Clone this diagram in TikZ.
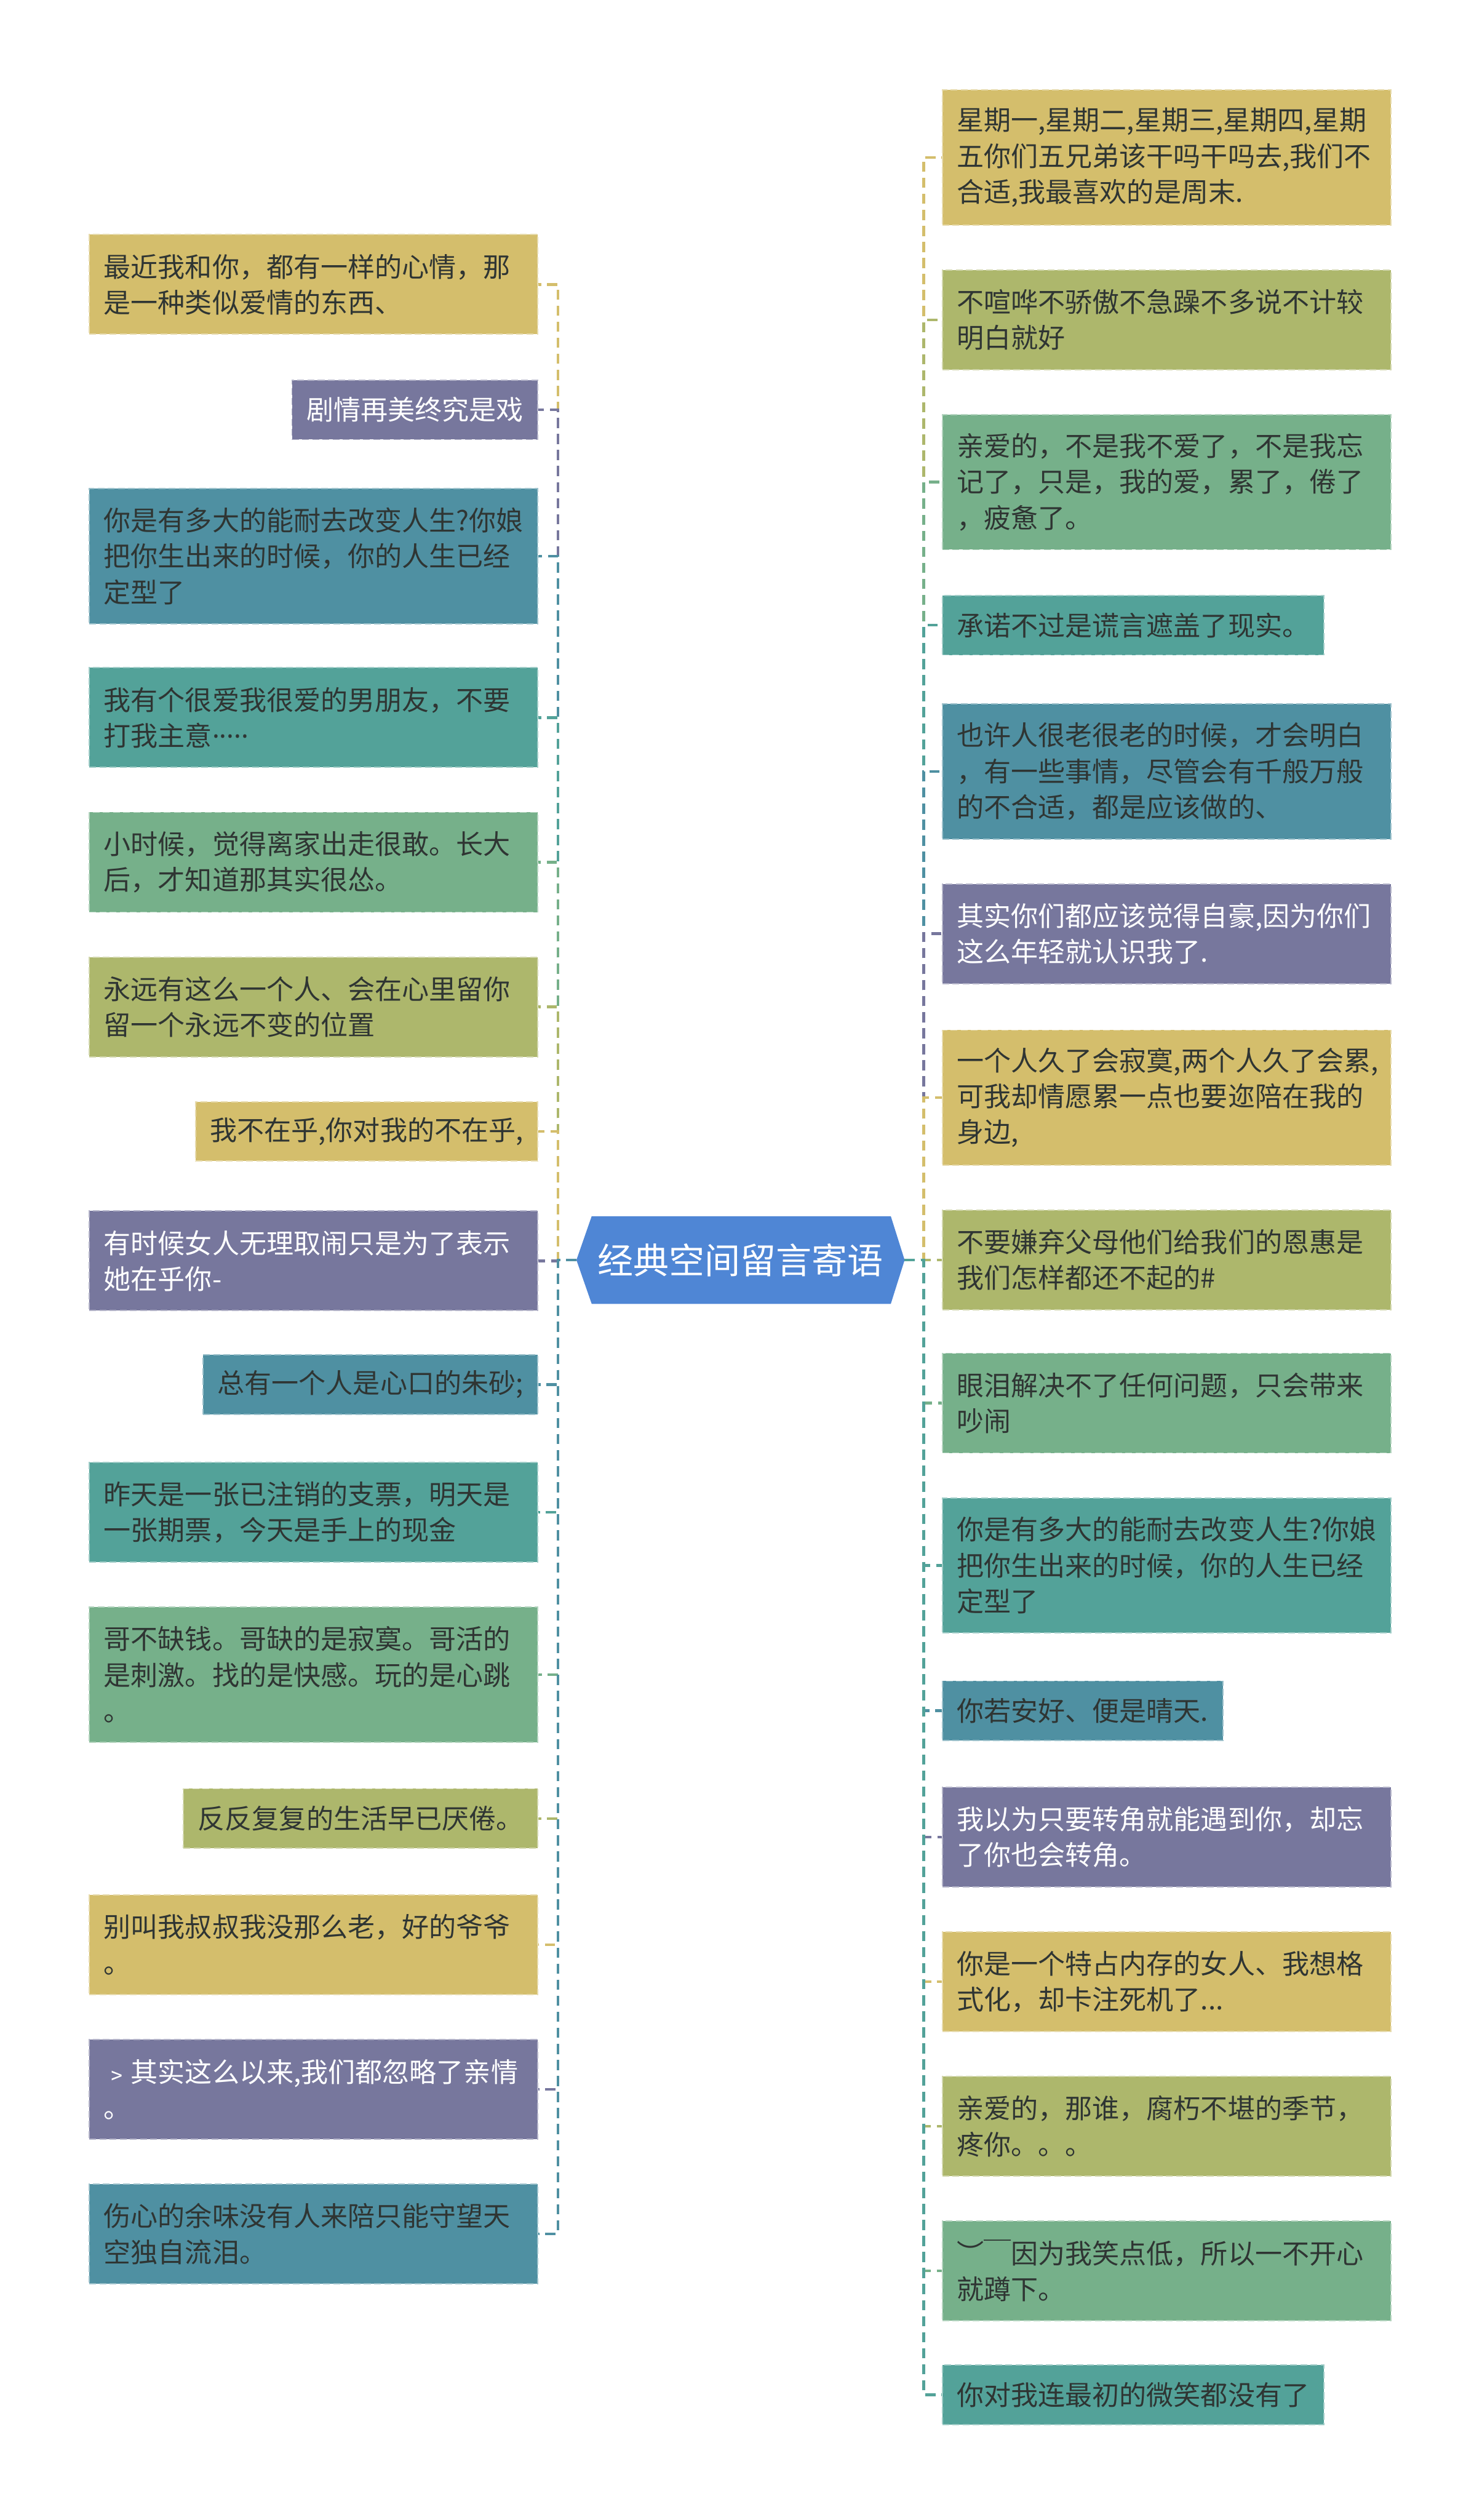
\documentclass[tikz,border=0pt]{standalone}
\usepackage{fontspec}
\setmainfont{Noto Sans CJK SC}
\newfontfamily\dotfont{Noto Sans}
\usetikzlibrary{calc}
\definecolor{cyellow}{HTML}{D4BE6C}
\definecolor{colive}{HTML}{ADB76C}
\definecolor{cgreen}{HTML}{76B08A}
\definecolor{cteal}{HTML}{53A299}
\definecolor{cblue}{HTML}{4F90A2}
\definecolor{cpurple}{HTML}{77779D}
\definecolor{croot}{HTML}{4F86D5}
\definecolor{ctext}{HTML}{2F3533}

\begin{document}
\begin{tikzpicture}[x=0.025cm, y=-0.025cm,
    leaf/.style={fill=#1, draw=#1!55!white, dash pattern=on 3pt off 1.5pt, line width=0.5pt,
        inner xsep=0.225cm, inner ysep=0pt, text=ctext, align=left,
        font=\fontsize{12pt}{15.86pt}\selectfont},
    wide/.style={text width=6.525cm},
    one/.style={minimum height=0.925cm},
    two/.style={minimum height=1.55cm},
    three/.style={minimum height=2.1cm},
    link/.style={draw=#1, line width=1.25pt, dash pattern=on 4.5pt off 2.6pt}]
    \useasboundingbox (0,0) rectangle (922,1568);

    % Central topic
    \node[minimum width=5.09cm, minimum height=1.35cm, inner sep=0pt] (root) at (460.8,784) {};
    \fill[croot] (root.west) -- ($(root.north west)+(9.5,0)$) -- ($(root.north east)+(-8.6,0)$)
        -- (root.east) -- ($(root.south east)+(-8.6,0)$) -- ($(root.south west)+(9.5,0)$) -- cycle;
    \node[text=white, font=\fontsize{15.8pt}{18pt}\selectfont] (title) at (root) {经典空间留言寄语};

    % Left branches
    \node[leaf=cyellow, wide, two, anchor=east] (l1) at (335,177) {最近我和你，都有一样的心情，那\\是一种类似爱情的东西、};
    \node[leaf=cpurple, one, anchor=east, text=white] (l2) at (335,255) {剧情再美终究是戏};
    \node[leaf=cblue, wide, three, anchor=east] (l3) at (335,346) {你是有多大的能耐去改变人生?你娘\\把你生出来的时候，你的人生已经\\定型了};
    \node[leaf=cteal, wide, two, anchor=east] (l4) at (335,446.5) {我有个很爱我很爱的男朋友，不要\\打我主意{\dotfont ·····}};
    \node[leaf=cgreen, wide, two, anchor=east] (l5) at (335,536.5) {小时候，觉得离家出走很敢。长大\\后，才知道那其实很怂。};
    \node[leaf=colive, wide, two, anchor=east] (l6) at (335,626.5) {永远有这么一个人、会在心里留你\\留一个永远不变的位置};
    \node[leaf=cyellow, one, anchor=east] (l7) at (335,704) {我不在乎,你对我的不在乎,};
    \node[leaf=cpurple, wide, two, anchor=east, text=white] (l8) at (335,784.5) {有时候女人无理取闹只是为了表示\\她在乎你-};
    \node[leaf=cblue, one, anchor=east] (l9) at (335,861.5) {总有一个人是心口的朱砂;};
    \node[leaf=cteal, wide, two, anchor=east] (l10) at (335,941) {昨天是一张已注销的支票，明天是\\一张期票，今天是手上的现金};
    \node[leaf=cgreen, wide, three, anchor=east] (l11) at (335,1042) {哥不缺钱。哥缺的是寂寞。哥活的\\是刺激。找的是快感。玩的是心跳\\。};
    \node[leaf=colive, one, anchor=east] (l12) at (335,1131.5) {反反复复的生活早已厌倦。};
    \node[leaf=cyellow, wide, two, anchor=east] (l13) at (335,1210) {别叫我叔叔我没那么老，好的爷爷\\。};
    \node[leaf=cpurple, wide, two, anchor=east, text=white] (l14) at (335,1300) {﹥其实这么以来,我们都忽略了亲情\\。};
    \node[leaf=cblue, wide, two, anchor=east] (l15) at (335,1390) {伤心的余味没有人来陪只能守望天\\空独自流泪。};

    % Right branches
    \node[leaf=cyellow, wide, three, anchor=west] (r1) at (586,98) {星期一,星期二,星期三,星期四,星期\\五你们五兄弟该干吗干吗去,我们不\\合适,我最喜欢的是周末.};
    \node[leaf=colive, wide, two, anchor=west] (r2) at (586,199) {不喧哗不骄傲不急躁不多说不计较\\明白就好};
    \node[leaf=cgreen, wide, three, anchor=west] (r3) at (586,300) {亲爱的，不是我不爱了，不是我忘\\记了，只是，我的爱，累了，倦了\\，疲惫了。};
    \node[leaf=cteal, one, anchor=west] (r4) at (586,389) {承诺不过是谎言遮盖了现实。};
    \node[leaf=cblue, wide, three, anchor=west] (r5) at (586,480) {也许人很老很老的时候，才会明白\\，有一些事情，尽管会有千般万般\\的不合适，都是应该做的、};
    \node[leaf=cpurple, wide, two, anchor=west, text=white] (r6) at (586,581) {其实你们都应该觉得自豪,因为你们\\这么年轻就认识我了.};
    \node[leaf=cyellow, wide, three, anchor=west] (r7) at (586,683) {一个人久了会寂寞,两个人久了会累,\\可我却情愿累一点也要迩陪在我的\\身边,};
    \node[leaf=colive, wide, two, anchor=west] (r8) at (586,784) {不要嫌弃父母他们给我们的恩惠是\\我们怎样都还不起的\#};
    \node[leaf=cgreen, wide, two, anchor=west] (r9) at (586,873) {眼泪解决不了任何问题，只会带来\\吵闹};
    \node[leaf=cteal, wide, three, anchor=west] (r10) at (586,974) {你是有多大的能耐去改变人生?你娘\\把你生出来的时候，你的人生已经\\定型了};
    \node[leaf=cblue, one, anchor=west] (r11) at (586,1064.5) {你若安好、便是晴天.};
    \node[leaf=cpurple, wide, two, anchor=west, text=white] (r12) at (586,1143) {我以为只要转角就能遇到你，却忘\\了你也会转角。};
    \node[leaf=cyellow, wide, two, anchor=west] (r13) at (586,1233) {你是一个特占内存的女人、我想格\\式化，却卡注死机了...};
    \node[leaf=colive, wide, two, anchor=west] (r14) at (586,1323) {亲爱的，那谁，腐朽不堪的季节，\\疼你。。。};
    \node[leaf=cgreen, wide, two, anchor=west] (r15) at (586,1413) {︶￣因为我笑点低，所以一不开心\\就蹲下。};
    \node[leaf=cteal, one, anchor=west] (r16) at (586,1490) {你对我连最初的微笑都没有了};

    % Connectors, left side
    \draw[link=cyellow] (root.west) -- ++(-11.5,0) |- (l1.east);
    \draw[link=cpurple] (root.west) -- ++(-11.5,0) |- (l2.east);
    \draw[link=cblue] (root.west) -- ++(-11.5,0) |- (l3.east);
    \draw[link=cteal] (root.west) -- ++(-11.5,0) |- (l4.east);
    \draw[link=cgreen] (root.west) -- ++(-11.5,0) |- (l5.east);
    \draw[link=colive] (root.west) -- ++(-11.5,0) |- (l6.east);
    \draw[link=cyellow] (root.west) -- ++(-11.5,0) |- (l7.east);
    \draw[link=cpurple] (root.west) -- ++(-11.5,0) |- (l8.east);
    \draw[link=cblue] (root.west) -- ++(-11.5,0) |- (l9.east);
    \draw[link=cteal] (root.west) -- ++(-11.5,0) |- (l10.east);
    \draw[link=cgreen] (root.west) -- ++(-11.5,0) |- (l11.east);
    \draw[link=colive] (root.west) -- ++(-11.5,0) |- (l12.east);
    \draw[link=cyellow] (root.west) -- ++(-11.5,0) |- (l13.east);
    \draw[link=cpurple] (root.west) -- ++(-11.5,0) |- (l14.east);
    \draw[link=cblue] (root.west) -- ++(-11.5,0) |- (l15.east);

    % Connectors, right side
    \draw[link=cyellow] (root.east) -- ++(11.8,0) |- (r1.west);
    \draw[link=colive] (root.east) -- ++(11.8,0) |- (r2.west);
    \draw[link=cgreen] (root.east) -- ++(11.8,0) |- (r3.west);
    \draw[link=cteal] (root.east) -- ++(11.8,0) |- (r4.west);
    \draw[link=cblue] (root.east) -- ++(11.8,0) |- (r5.west);
    \draw[link=cpurple] (root.east) -- ++(11.8,0) |- (r6.west);
    \draw[link=cyellow] (root.east) -- ++(11.8,0) |- (r7.west);
    \draw[link=colive] (root.east) -- ++(11.8,0) |- (r8.west);
    \draw[link=cgreen] (root.east) -- ++(11.8,0) |- (r9.west);
    \draw[link=cteal] (root.east) -- ++(11.8,0) |- (r10.west);
    \draw[link=cblue] (root.east) -- ++(11.8,0) |- (r11.west);
    \draw[link=cpurple] (root.east) -- ++(11.8,0) |- (r12.west);
    \draw[link=cyellow] (root.east) -- ++(11.8,0) |- (r13.west);
    \draw[link=colive] (root.east) -- ++(11.8,0) |- (r14.west);
    \draw[link=cgreen] (root.east) -- ++(11.8,0) |- (r15.west);
    \draw[link=cteal] (root.east) -- ++(11.8,0) |- (r16.west);
\end{tikzpicture}
\end{document}
